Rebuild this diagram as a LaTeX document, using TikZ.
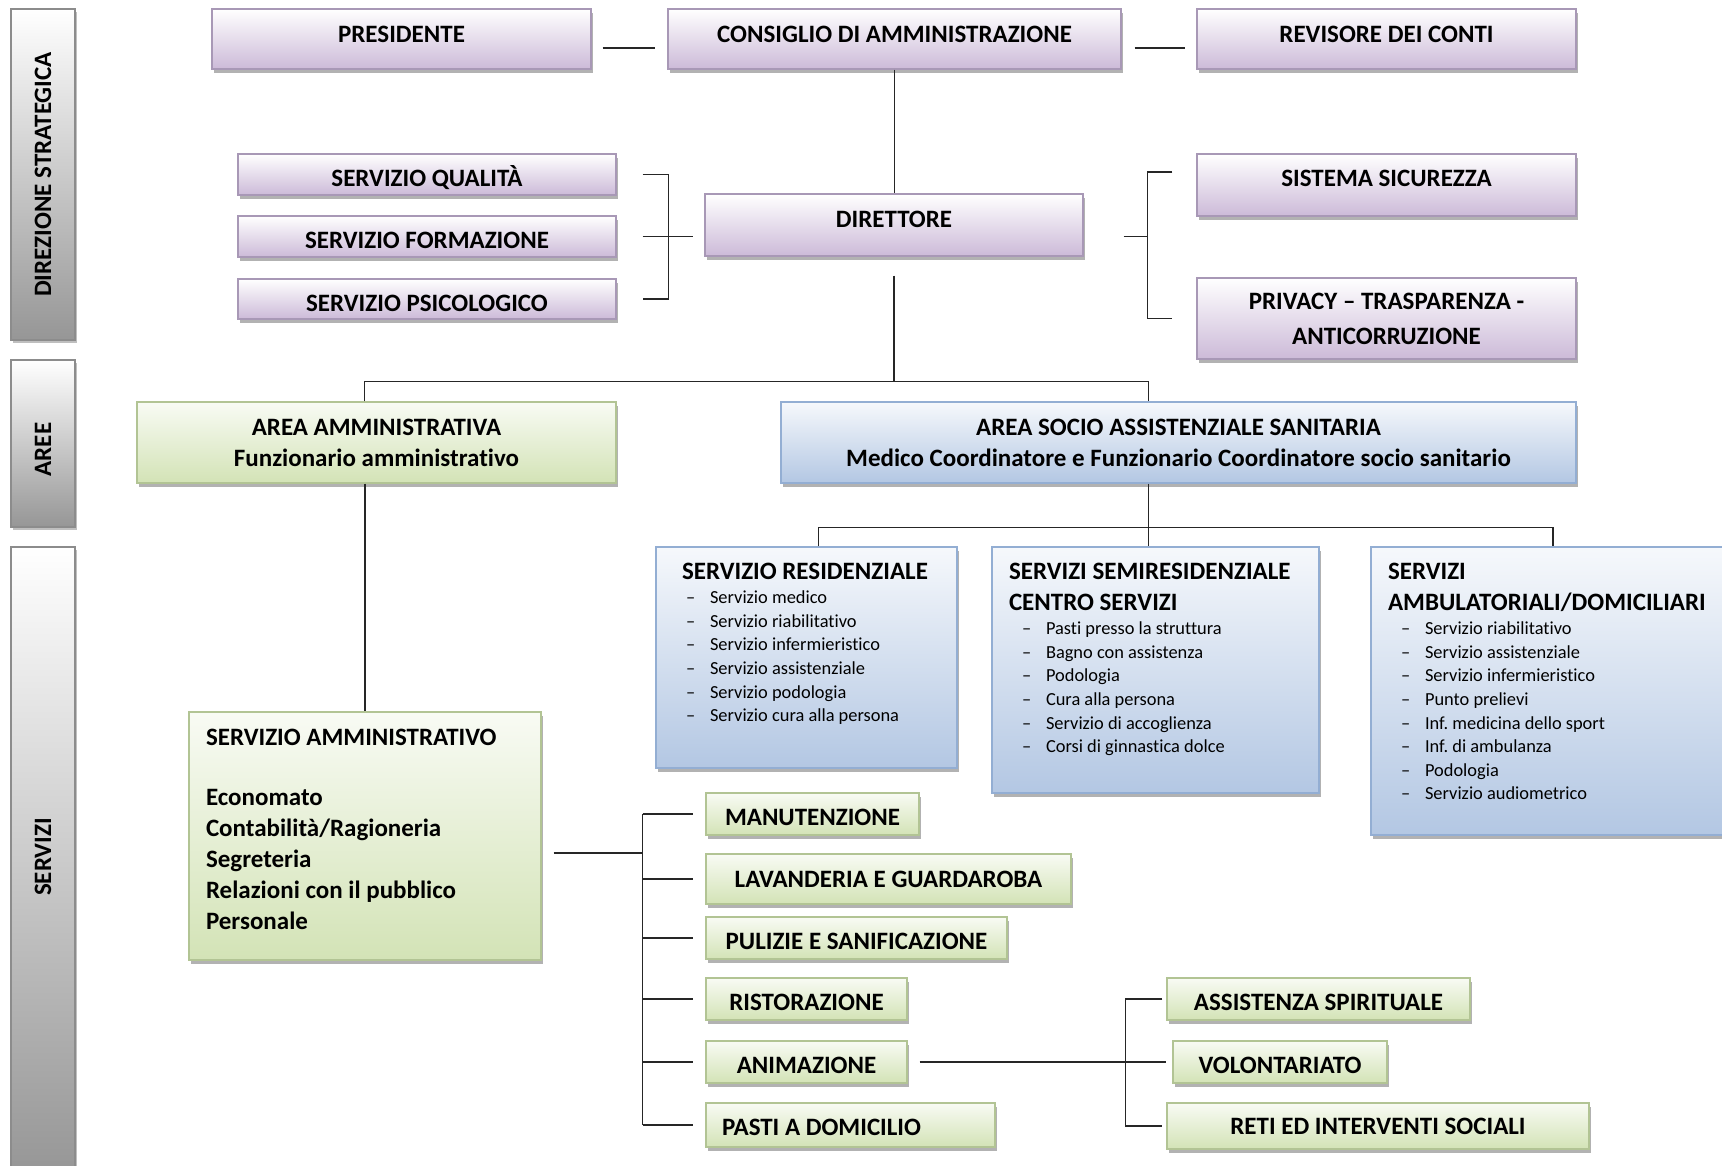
\documentclass[tikz,border=0pt]{standalone}
\usepackage{fontspec}
\setmainfont{Carlito}[Ligatures={TeX,NoCommon}]
\usepackage{xcolor}
\usetikzlibrary{positioning,shadows}
\definecolor{lilaFondo}{HTML}{CCBAD8}
\definecolor{lilaBordo}{HTML}{A898B6}
\definecolor{verdeFondo}{HTML}{D3E3B6}
\definecolor{verdeBordo}{HTML}{B2C494}
\definecolor{bluFondo}{HTML}{B3C7E3}
\definecolor{bluBordo}{HTML}{93AED3}
\definecolor{grigioBarra}{HTML}{969696}
\frenchspacing
\newlength{\rientro}
\newcommand{\titolo}{\bfseries\fontsize{25}{31}\selectfont}
\newcommand{\voci}{\mdseries\fontsize{18.4}{23.6}\selectfont}
\newcommand{\voce}[1]{\par\hspace*{\rientro}\makebox[24pt][l]{--}#1}
\newcommand{\riquadro}[3]{\begin{minipage}[t][#2][t]{#1}\raggedright#3\end{minipage}}
\tikzset{
  casella/.style={draw, line width=1.2pt, align=center, inner sep=0pt, font=\titolo,
    drop shadow={shadow xshift=2pt, shadow yshift=-3.5pt, fill=black!55, opacity=.55}},
  lila/.style={casella, draw=lilaBordo, top color=white, bottom color=lilaFondo},
  verde/.style={casella, draw=verdeBordo, top color=verdeFondo!15, bottom color=verdeFondo},
  blu/.style={casella, draw=bluBordo, top color=bluFondo!12, bottom color=bluFondo},
  elenco/.style={align=none, inner xsep=#1},
  alto/.style={text depth=#1},
  basso/.style={text height=#1, text depth=0pt},
  barra/.style={draw=black!45, line width=1.2pt, top color=white, bottom color=grigioBarra,
    minimum width=64pt, drop shadow={shadow xshift=2pt, shadow yshift=-3pt, fill=black!50, opacity=.5}},
  barratesto/.style={rotate=90, font=\titolo},
  filo/.style={line width=1.5pt, draw=black!85},
}

\begin{document}
\begin{tikzpicture}[x=1pt, y=-1pt]
\useasboundingbox (0,0) rectangle (1722,1165);
\node[barra, minimum height=331pt] (bDir) at (43,174.5) {};
\node[barratesto] (tDir) at (bDir.center) {DIREZIONE STRATEGICA};
\node[barra, minimum height=167pt] (bAree) at (43,443.5) {};
\node[barratesto] (tAree) at ([yshift=-6pt]bAree.center) {AREE};
\node[barra, minimum height=628pt] (bServ) at (43,861) {};
\node[barratesto] (tServ) at ([yshift=4pt]bServ.center) {SERVIZI};

\node[lila, alto=10pt, minimum width=379pt, minimum height=60pt] (pres) at (401.5,39) {PRESIDENTE};
\node[lila, alto=10pt, minimum width=453pt, minimum height=60pt] (cda) at (894.5,39) {CONSIGLIO DI AMMINISTRAZIONE};
\node[lila, alto=10pt, minimum width=379pt, minimum height=60pt] (rev) at (1386.5,39) {REVISORE DEI CONTI};
\node[lila, alto=11pt, minimum width=378pt, minimum height=62pt] (dir) at (894,225) {DIRETTORE};
\node[lila, basso=24pt, minimum width=378pt, minimum height=41pt] (sq) at (427,174.5) {SERVIZIO QUALITÀ};
\node[lila, basso=24pt, minimum width=378pt, minimum height=41pt] (sf) at (427,236.5) {SERVIZIO FORMAZIONE};
\node[lila, basso=24pt, minimum width=378pt, minimum height=40pt] (sp) at (427,299) {SERVIZIO PSICOLOGICO};
\node[lila, alto=14pt, minimum width=379pt, minimum height=62pt] (ss) at (1386.5,185) {SISTEMA SICUREZZA};
\node[lila, minimum width=379pt, minimum height=81pt] (priv) at (1386.5,318.5) {PRIVACY – TRASPARENZA -\\[4pt]ANTICORRUZIONE};

\node[verde, minimum width=479pt, minimum height=81pt] (aa) at (376.5,442.5) {AREA AMMINISTRATIVA\\Funzionario amministrativo};
\node[blu, minimum width=795pt, minimum height=81pt] (as) at (1178.5,442.5) {AREA SOCIO ASSISTENZIALE SANITARIA\\Medico Coordinatore e Funzionario Coordinatore socio sanitario};

\node[verde, elenco=17pt] (samm) at (365,836) {\riquadro{318pt}{248pt}{\rule{0pt}{33pt}SERVIZIO AMMINISTRATIVO\\[29.5pt]
  Economato\\Contabilità/Ragioneria\\Segreteria\\Relazioni con il pubblico\\Personale}};
\node[blu, elenco=26pt] (sres) at (806.5,657.5) {\riquadro{249pt}{221pt}{\rule{0pt}{32pt}SERVIZIO RESIDENZIALE\par
  \vspace{1pt}\voci\setlength{\rientro}{4pt}%
  \voce{Servizio medico}\voce{Servizio riabilitativo}\voce{Servizio infermieristico}%
  \voce{Servizio assistenziale}\voce{Servizio podologia}\voce{Servizio cura alla persona}}};
\node[blu, elenco=17pt] (ssemi) at (1155.5,670) {\riquadro{293pt}{246pt}{\rule{0pt}{32pt}SERVIZI SEMIRESIDENZIALE\\CENTRO SERVIZI\par
  \vspace{1pt}\voci\setlength{\rientro}{13pt}%
  \voce{Pasti presso la struttura}\voce{Bagno con assistenza}\voce{Podologia}%
  \voce{Cura alla persona}\voce{Servizio di accoglienza}\voce{Corsi di ginnastica dolce}}};
\node[blu, elenco=17pt] (samb) at (1553,691) {\riquadro{330pt}{288pt}{\rule{0pt}{32pt}SERVIZI\\AMBULATORIALI/DOMICILIARI\par
  \vspace{1pt}\voci\setlength{\rientro}{13pt}%
  \voce{Servizio riabilitativo}\voce{Servizio assistenziale}\voce{Servizio infermieristico}%
  \voce{Punto prelievi}\voce{Inf. medicina dello sport}\voce{Inf. di ambulanza}%
  \voce{Podologia}\voce{Servizio audiometrico}}};

\node[verde, basso=22pt, minimum width=213pt, minimum height=42pt] (man) at (812.5,814) {MANUTENZIONE};
\node[verde, minimum width=365pt, minimum height=50pt] (lav) at (888.5,879) {LAVANDERIA E GUARDAROBA};
\node[verde, basso=22pt, minimum width=301pt, minimum height=42pt] (pul) at (856.5,938) {PULIZIE E SANIFICAZIONE};
\node[verde, basso=22pt, minimum width=201pt, minimum height=42pt] (ris) at (806.5,999) {RISTORAZIONE};
\node[verde, basso=22pt, minimum width=201pt, minimum height=42pt] (ani) at (806.5,1062) {ANIMAZIONE};
\node[verde, basso=20pt, align=flush left, text width=257pt, minimum width=289pt, minimum height=44pt] (pas) at (850.5,1125) {PASTI A DOMICILIO};
\node[verde, basso=22pt, minimum width=303pt, minimum height=42pt] (asp) at (1318.5,999) {ASSISTENZA SPIRITUALE};
\node[verde, basso=22pt, minimum width=214pt, minimum height=42pt] (vol) at (1280,1062) {VOLONTARIATO};
\node[verde, minimum width=422pt, minimum height=46pt] (reti) at (1378,1126) {RETI ED INTERVENTI SOCIALI};

\draw[filo, shorten <=11pt, shorten >=12pt] ([yshift=-9pt]pres.east) -- ([yshift=-9pt]cda.west);
\draw[filo, shorten <=13pt, shorten >=11pt] ([yshift=-9pt]cda.east) -- ([yshift=-9pt]rev.west);
\draw[filo] (cda.south) -- (cda.south |- dir.north);
\coordinate (sxTop) at ([xshift=52pt]sq.east);
\draw[filo] ([xshift=26pt]sq.east) -- (sxTop) -- (sxTop |- sp.east) -- ([xshift=26pt]sp.east);
\draw[filo, shorten >=11pt] ([xshift=26pt]sf.east) -- (sf.east -| dir.west);
\coordinate (dxTop) at ([xshift=-49pt,yshift=13pt]ss.west);
\draw[filo] ([xshift=-24pt,yshift=13pt]ss.west) -- (dxTop) -- (dxTop |- priv.west) -- ([xshift=-24pt]priv.west);
\draw[filo, shorten <=40pt] (dir.east |- sf.east) -- (dxTop |- sf.east);

\coordinate (bivio) at ([yshift=-125pt]dir.south);
\draw[filo, shorten <=19pt] (dir.south) -- (bivio);
\draw[filo] ([xshift=-12pt]aa.north) |- (bivio) -| ([xshift=-30pt]as.north);
\draw[filo] (samm.north |- aa.south) -- (samm.north);
\coordinate (ramo) at ([xshift=-30pt,yshift=-44pt]as.south);
\draw[filo] ([xshift=-30pt]as.south) -- (ramo |- ssemi.north);
\draw[filo] ([xshift=12pt]sres.north) |- (ramo) -| (samb.north);

\coordinate (busSx) at ([xshift=101pt,yshift=-17pt]samm.east);
\draw[filo, shorten <=12pt] ([yshift=-17pt]samm.east) -- (busSx);
\draw[filo] (busSx |- man.west) -- (busSx |- pas.west);
\foreach \s in {man,lav,pul,ris,ani,pas}
  \draw[filo, shorten >=12pt] (busSx |- \s.west) -- (\s.west);
\draw[filo, shorten <=12pt, shorten >=6pt] (ani.east) -- (vol.west);
\draw[filo] ([xshift=-4pt]asp.west) -| ([xshift=-41pt]reti.west) -- ([xshift=-4pt]reti.west);
\end{tikzpicture}
\end{document}
